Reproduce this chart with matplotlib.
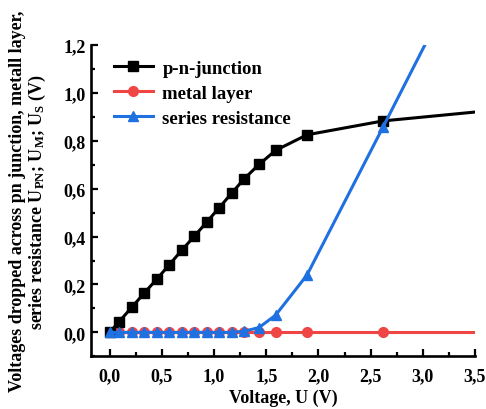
import matplotlib
matplotlib.use("Agg")
import matplotlib.pyplot as plt
from matplotlib.ticker import MultipleLocator, FuncFormatter

plt.rcParams['font.family'] = ['Liberation Serif', 'DejaVu Serif']
plt.rcParams['font.weight'] = 'bold'
plt.rcParams['mathtext.fontset'] = 'custom'
plt.rcParams['mathtext.rm'] = 'Liberation Serif:bold'
plt.rcParams['mathtext.bf'] = 'Liberation Serif:bold'
plt.rcParams['mathtext.it'] = 'Liberation Serif:bold:italic'

# data
x_pts = [0.0, 0.09, 0.21, 0.33, 0.45, 0.57, 0.69, 0.81, 0.93, 1.05, 1.17,
         1.29, 1.43, 1.59, 1.89, 2.62, 3.5]
u_pn = [0.0, 0.045, 0.104, 0.164, 0.222, 0.282, 0.343, 0.401, 0.461, 0.521,
        0.582, 0.642, 0.701, 0.760, 0.825, 0.883, 0.92]
u_m = [0.0] * 17
u_s = [0.0, 0.0, 0.0, 0.0, 0.0, 0.0, 0.0, 0.0, 0.0, 0.0, 0.0,
       0.005, 0.02, 0.072, 0.239, 0.858, 1.61]

labels = ['p-n-junction', 'metal layer', 'series resistance']
colors = ['#000000', '#f04545', '#1f70e0']

fig = plt.figure(figsize=(4.86, 4.10), dpi=100)
ax = fig.add_axes([0.1872, 0.1285, 0.790, 0.7593])

mk = list(range(len(x_pts) - 1))
ax.plot(x_pts, u_m, color=colors[1], lw=2.2, marker='o', ms=7,
        markevery=mk, label=labels[1], zorder=2)
ax.plot(x_pts, u_pn, color=colors[0], lw=2.2, marker='s', ms=6.5,
        markevery=mk, label=labels[0], zorder=3)
ax.plot(x_pts, u_s, color=colors[2], lw=2.2, marker='^', ms=7.5,
        markevery=mk, label=labels[2], zorder=4)

ax.set_xlim(-0.18, 3.5)
ax.set_ylim(-0.1, 1.2)
ax.xaxis.set_major_locator(MultipleLocator(0.5))
ax.xaxis.set_minor_locator(MultipleLocator(0.25))
ax.yaxis.set_major_locator(MultipleLocator(0.2))
ax.yaxis.set_minor_locator(MultipleLocator(0.1))
fmt = FuncFormatter(lambda v, p: f"{v:.1f}".replace('.', ','))
ax.xaxis.set_major_formatter(fmt)
ax.yaxis.set_major_formatter(fmt)
ax.tick_params(which='both', direction='in', width=1.6, labelsize=13)
ax.tick_params(which='major', length=5, pad=4)
ax.tick_params(axis='x', which='major', pad=8)
ax.tick_params(which='minor', length=3)
for s in ['top', 'right']:
    ax.spines[s].set_visible(False)
for s in ['left', 'bottom']:
    ax.spines[s].set_linewidth(1.9)
for t in ax.get_xticklabels() + ax.get_yticklabels():
    t.set_fontweight('bold')

ax.set_xlabel('Voltage, U (V)', fontsize=13, fontweight='bold', labelpad=3)
ax.set_ylabel('Voltages dropped across pn junction, metall layer,\n'
              r'series resistance U$_{\mathrm{PN}}$; U$_{\mathrm{M}}$; U$_{\mathrm{S}}$ (V)',
              fontsize=13, fontweight='bold', labelpad=11, linespacing=1.05)

handles, lbls = ax.get_legend_handles_labels()
order = [1, 0, 2]
leg = ax.legend([handles[i] for i in order], [lbls[i] for i in order],
                loc='upper left', frameon=False, fontsize=13.5,
                bbox_to_anchor=(0.025, 0.995), handlelength=2.1,
                labelspacing=0.42, handletextpad=0.5, borderaxespad=0.3)
for t in leg.get_texts():
    t.set_fontweight('bold')

fig.savefig('out.png', dpi=100)
